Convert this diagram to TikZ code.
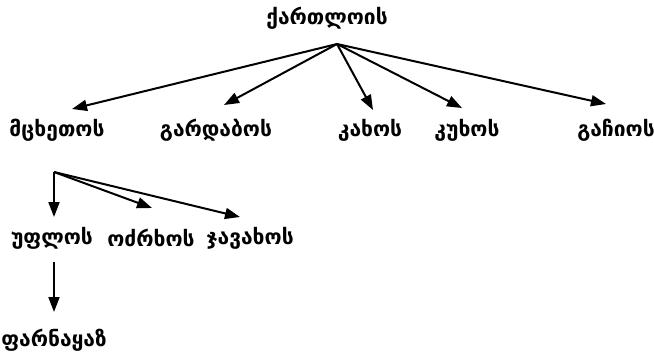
\documentclass[tikz,border=0pt]{standalone}
\usepackage{fontspec}
\setmainfont{DejaVu Sans}
\usetikzlibrary{arrows.meta,calc}

\tikzset{
  kname/.style={font=\bfseries\fontsize{21}{24}\selectfont, inner sep=0pt},
  arr/.style={line width=2pt, -{Triangle[length=15pt,width=11pt]}}
}

\begin{document}
\begin{tikzpicture}[x=1pt,y=-1pt]
  \useasboundingbox (0,0) rectangle (654,356);
  % top
  \node[kname] (kart) at (327,18) {ქართლოის};
  \coordinate (fork) at ($(kart)+(10,26)$);
  % sons
  \node[kname] (mtsk) at (57,130) {მცხეთოს};
  \node[kname] (gard) at (216,130) {გარდაბოს};
  \node[kname] (kakh) at (370,130) {კახოს};
  \node[kname] (kukh) at (467,130) {კუხოს};
  \node[kname] (gach) at (616,130) {გაჩიოს};
  \draw[arr] (fork) -- ($(mtsk)+(15,-21)$);
  \draw[arr] (fork) -- ($(gard)+(8,-25)$);
  \draw[arr] (fork) -- ($(kakh)+(3,-20)$);
  \draw[arr] (fork) -- ($(kukh)+(-5,-22)$);
  \draw[arr] (fork) -- ($(gach)+(-10,-26)$);
  % sons of mtskhetos
  \coordinate (fork2) at ($(mtsk)+(-3,42)$);
  \node[kname] (upl) at (52,238) {უფლოს};
  \node[kname] (odz) at (151,238) {ოძრხოს};
  \node[kname] (jav) at (250,238) {ჯავახოს};
  \draw[arr] (fork2) -- ($(upl)+(2,-21)$);
  \draw[arr] (fork2) -- ($(odz)+(1,-30)$);
  \draw[arr] (fork2) -- ($(jav)+(-10,-21)$);
  % parnavaz
  \node[kname] (parn) at (54,340) {ფარნაყაზ};
  \draw[arr] ($(upl)+(2,24)$) -- ($(parn)+(0,-28)$);
\end{tikzpicture}
\end{document}
